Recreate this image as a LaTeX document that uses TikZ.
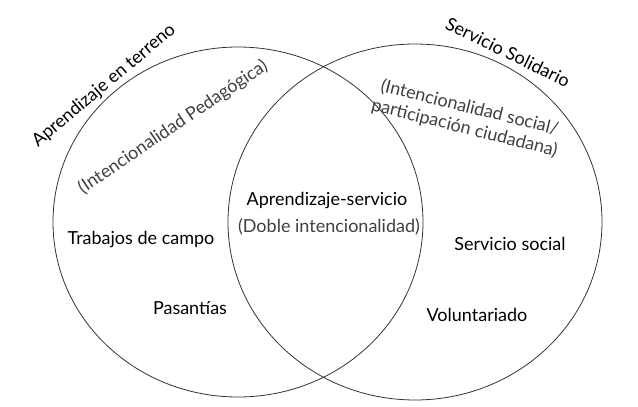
\documentclass[tikz,border=0pt]{standalone}
\usepackage{fontspec}
\setmainfont{Lato}
\begin{document}
\begin{tikzpicture}[x=1pt,y=-1pt,
  lbl/.style={font=\fontsize{18}{21}\selectfont, inner sep=0pt, align=center},
  sub/.style={lbl, text=black!75},
  ring/.style={draw=black!80, line width=0.8pt}]
\useasboundingbox (0,0) rectangle (638,407);
\draw[ring] (238,222) ellipse [x radius=185, y radius=175];
\draw[ring] (415,222) ellipse [x radius=187, y radius=178];
\node[lbl, rotate=40] (a) at (104,86) {Aprendizaje en terreno};
\node[sub, rotate=34] (ap) at (173,127) {(Intencionalidad Pedagógica)};
\node[lbl, rotate=-26] (s) at (508,52) {Servicio Solidario};
\node[sub, rotate=-14] (sp) at (467,118) {(Intencionalidad social/\\participación ciudadana)};
\node[lbl] (as) at (327,201) {Aprendizaje-servicio};
\node[sub] (di) at (329,227) {(Doble intencionalidad)};
\node[lbl] (tc) at (141,240) {Trabajos de campo};
\node[lbl] (pa) at (190,308) {Pasantías};
\node[lbl] (ss) at (510,244) {Servicio social};
\node[lbl] (vo) at (477,315) {Voluntariado};
\end{tikzpicture}
\end{document}
